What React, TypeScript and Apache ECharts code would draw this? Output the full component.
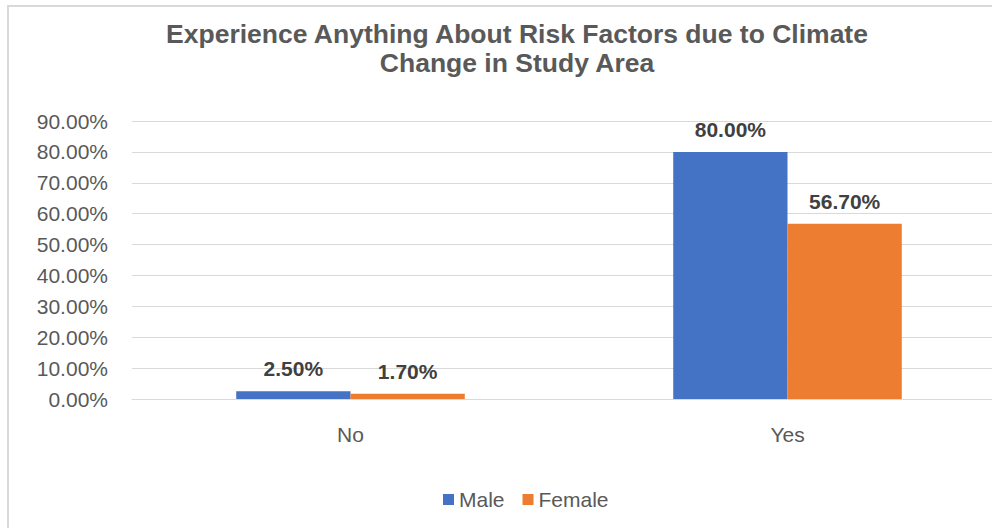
import React, { useEffect, useRef } from "react";
import * as echarts from "echarts";

const categories = ["No", "Yes"];
const maleValues = [2.5, 80.0];
const femaleValues = [1.7, 56.7];
const seriesNames = ["Male", "Female"];
const titleText = "Experience Anything About Risk Factors due to Climate\nChange in Study Area";

const FONT = "'Liberation Sans', Arial, sans-serif";

export default function App() {
  const ref = useRef<HTMLDivElement>(null);
  useEffect(() => {
    document.body.style.margin = "0";
    if (!ref.current) return;
    const chart = echarts.init(ref.current, null, { renderer: "svg" });
    const fmt = (v: number) => `${v.toFixed(2)}%`;
    const labelCfg = {
      show: true,
      position: "top",
      distance: 12,
      fontFamily: FONT,
      fontSize: 21,
      fontWeight: "bold",
      color: "#404040",
      formatter: (p: any) => fmt(p.value),
    };
    chart.setOption({
      animation: false,
      backgroundColor: "#ffffff",
      graphic: [
        {
          type: "rect",
          shape: { x: 8, y: 6, width: 1100, height: 700 },
          style: { fill: "none", stroke: "#d9d9d9", lineWidth: 2 },
          silent: true,
          z: -10,
        },
        {
          type: "text",
          x: 517,
          y: 19,
          style: {
            text: titleText,
            fill: "#595959",
            fontFamily: FONT,
            fontSize: 26.5,
            fontWeight: "bold",
            lineHeight: 29,
            textAlign: "center",
            textVerticalAlign: "top",
          },
        },
      ],
      legend: {
        data: seriesNames,
        left: 438,
        top: 484,
        itemWidth: 11,
        itemHeight: 11,
        itemGap: 18,
        icon: "rect",
        textStyle: { color: "#595959", fontSize: 21, fontFamily: FONT },
      },
      grid: { left: 132, top: 121, width: 874, height: 278, containLabel: false },
      xAxis: {
        type: "category",
        data: categories,
        axisTick: { show: false },
        axisLine: { show: true, lineStyle: { color: "#d9d9d9", width: 1 } },
        axisLabel: { color: "#595959", fontSize: 21, fontFamily: FONT, margin: 25 },
      },
      yAxis: {
        type: "value",
        min: 0,
        max: 90,
        interval: 10,
        axisLine: { show: false },
        axisTick: { show: false },
        splitLine: { lineStyle: { color: "#d9d9d9", width: 1 } },
        axisLabel: {
          color: "#595959",
          fontSize: 21,
          fontFamily: FONT,
          margin: 24,
          formatter: (v: number) => fmt(v),
        },
      },
      series: [
        {
          name: seriesNames[0],
          type: "bar",
          data: maleValues,
          itemStyle: { color: "#4472C4" },
          barGap: "0%",
          barCategoryGap: "47.7%",
          label: labelCfg,
        },
        {
          name: seriesNames[1],
          type: "bar",
          data: femaleValues,
          itemStyle: { color: "#ED7D31" },
          barGap: "0%",
          barCategoryGap: "47.7%",
          label: labelCfg,
        },
      ],
    });
    return () => chart.dispose();
  }, []);
  return (
    <div style={{ width: 992, height: 528, overflow: "hidden", position: "relative" }}>
      <div ref={ref} style={{ width: 1030, height: 528 }} />
    </div>
  );
}
